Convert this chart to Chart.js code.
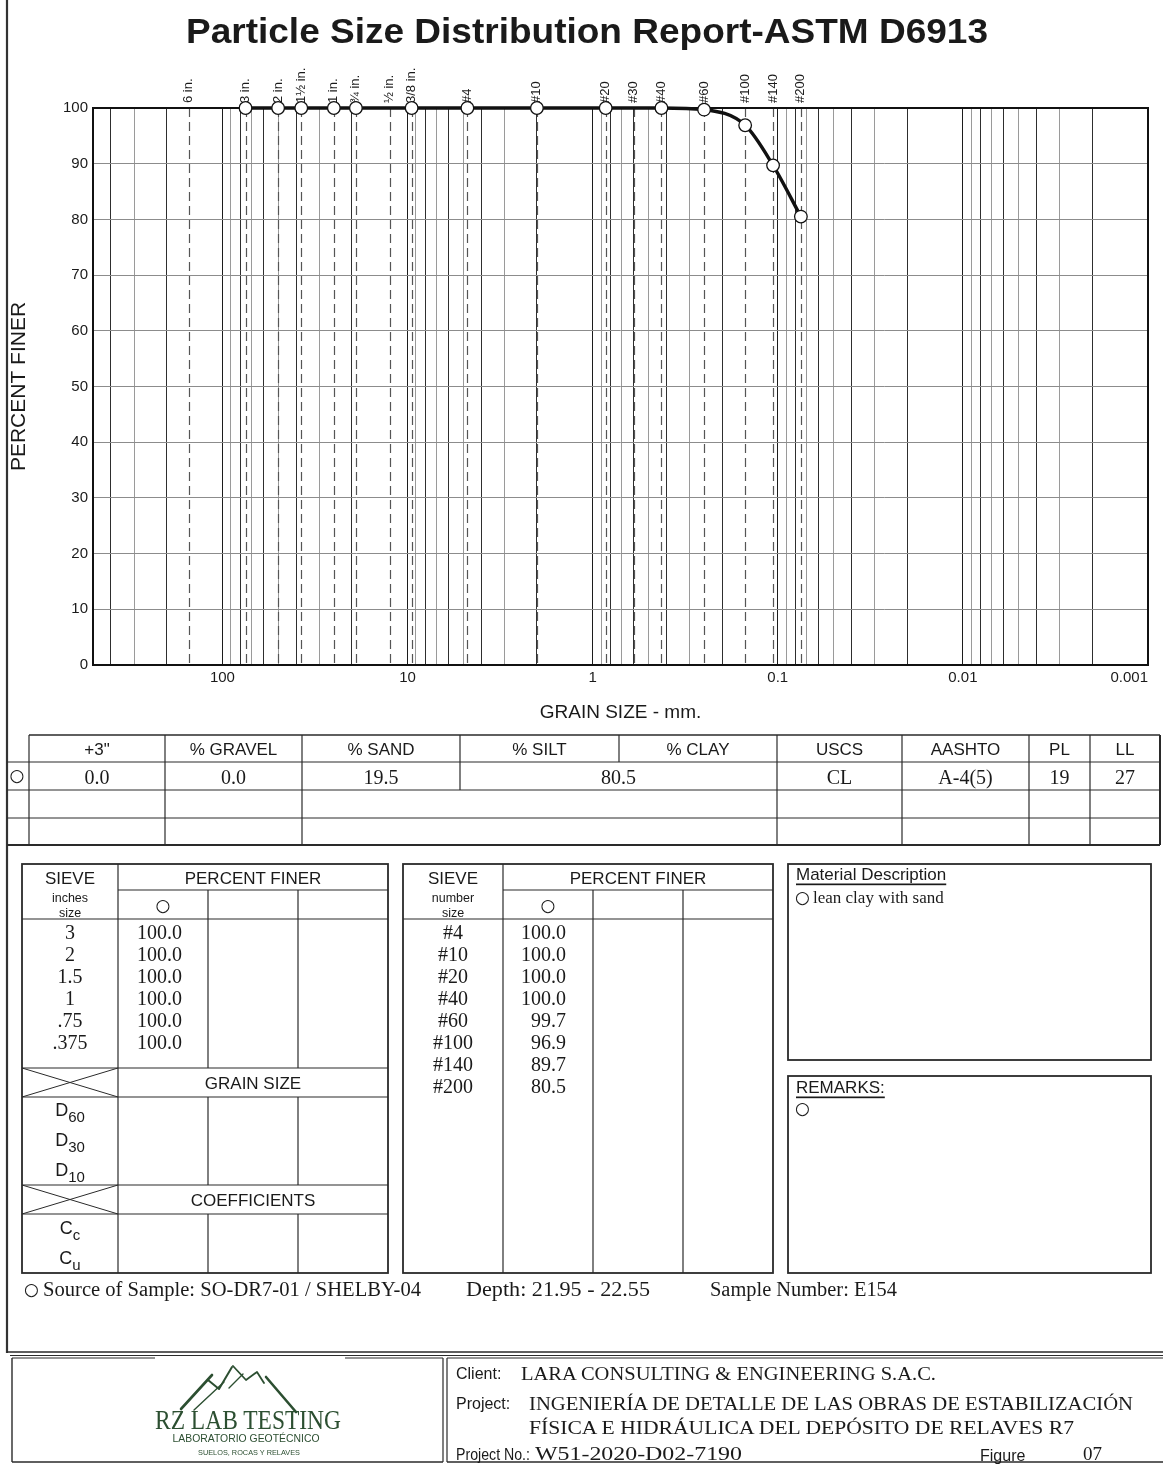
<!DOCTYPE html>
<html>
<head>
<meta charset="utf-8">
<title>Particle Size Distribution Report</title>
<script src="https://cdn.jsdelivr.net/npm/chart.js@4.4.1/dist/chart.umd.min.js"></script>
<style>
  body { margin: 0; background: #fff; }
  #page { position: relative; width: 1163px; height: 1465px; overflow: hidden; background: #fff; }
  #chartBox { position: absolute; left: 0; top: 0; width: 1163px; height: 730px; }
  #form { position: absolute; left: 0; top: 0; }
</style>
</head>
<body>
<div id="page">
  <div id="chartBox"><canvas id="psdChart" width="1163" height="730"></canvas></div>
  <svg id="form" width="1163" height="1465" xmlns="http://www.w3.org/2000/svg"></svg>
</div>
<script>
// sieve lines drawn on the chart (mm)
const sieveNames = ["6 in.", "3 in.", "2 in.", "1½ in.", "1 in.", "¾ in.", "½ in.", "3/8 in.", "#4", "#10", "#20", "#30", "#40", "#60", "#100", "#140", "#200"];
const sieveOpenings = [152.4, 75, 50, 37.5, 25, 19, 12.5, 9.5, 4.75, 2.0, 0.85, 0.6, 0.425, 0.25, 0.15, 0.106, 0.075];

// test results
const grainSize = [75, 50, 37.5, 25, 19, 9.5, 4.75, 2.0, 0.85, 0.425, 0.25, 0.15, 0.106, 0.075];
const percentFiner = [100, 100, 100, 100, 100, 100, 100, 100, 100, 100, 99.7, 96.9, 89.7, 80.5];

// axis labels
const sizeTickLabels = ["100", "10", "1", "0.1", "0.01", "0.001"];
const finerTicks = [0, 10, 20, 30, 40, 50, 60, 70, 80, 90, 100];

// summary table
const summaryHeaders = ['+3"', "% GRAVEL", "% SAND", "% SILT", "% CLAY", "USCS", "AASHTO", "PL", "LL"];
const summaryValues = ["0.0", "0.0", "19.5", "80.5", "CL", "A-4(5)", "19", "27"];

// sieve tables
const inchSieves = ["3", "2", "1.5", "1", ".75", ".375"];
const inchFiner = ["100.0", "100.0", "100.0", "100.0", "100.0", "100.0"];
const numberSieves = ["#4", "#10", "#20", "#40", "#60", "#100", "#140", "#200"];
const numberFiner = ["100.0", "100.0", "100.0", "100.0", "99.7", "96.9", "89.7", "80.5"];

const SANS = "'Liberation Sans', Arial, sans-serif";
const SERIF = "'Liberation Serif', 'Times New Roman', serif";
const SYMBOL = "'DejaVu Sans', sans-serif";

// log grid: every 1..9 x 10^n between 0.001 and 500
const gridValues = [];
[-3, -2, -1, 0, 1, 2].forEach((e) => {
  [1, 2, 3, 4, 5, 6, 7, 8, 9].forEach((m) => {
    const v = m * Math.pow(10, e);
    if (v <= 500) gridValues.push(v);
  });
});

function gridColor(v) {
  const e = Math.floor(Math.log10(v) + 1e-9);
  const m = Math.round(v / Math.pow(10, e));
  if (m === 1) return "#1c1c1c";
  return m % 2 === 0 ? "#2e2e2e" : "#9a9a9a";
}

const sievePlugin = {
  id: "sieveLines",
  beforeDatasetsDraw(chart) {
    const { ctx, chartArea: a, scales: { x } } = chart;
    ctx.save();
    ctx.strokeStyle = "#555";
    ctx.lineWidth = 1.2;
    ctx.setLineDash([9, 5]);
    sieveOpenings.forEach((d) => {
      const px = Math.round(x.getPixelForValue(d)) + 0.5;
      ctx.beginPath();
      ctx.moveTo(px, a.top);
      ctx.lineTo(px, a.bottom);
      ctx.stroke();
    });
    ctx.setLineDash([]);

    ctx.strokeStyle = "#111";
    ctx.lineWidth = 2;
    ctx.strokeRect(a.left, a.top, a.right - a.left, a.bottom - a.top);

    ctx.fillStyle = "#1a1a1a";
    ctx.font = "13px " + SANS;
    ctx.textAlign = "left";
    ctx.textBaseline = "middle";
    sieveNames.forEach((s, i) => {
      const px = x.getPixelForValue(sieveOpenings[i]);
      ctx.save();
      ctx.translate(px, a.top - 5);
      ctx.rotate(-Math.PI / 2);
      ctx.fillText(s, 0, 0);
      ctx.restore();
    });

    ctx.font = "15px " + SANS;
    sizeTickLabels.forEach((lbl, i) => {
      const px = x.getPixelForValue(Number(lbl));
      ctx.textAlign = i === sizeTickLabels.length - 1 ? "right" : "center";
      ctx.fillText(lbl, px, a.bottom + 13);
    });
    ctx.restore();
  },
};

new Chart(document.getElementById("psdChart"), {
  type: "line",
  data: {
    datasets: [
      {
        data: grainSize.map((g, i) => ({ x: g, y: percentFiner[i] })),
        borderColor: "#111",
        borderWidth: 3.4,
        cubicInterpolationMode: "monotone",
        pointRadius: 6.3,
        pointBackgroundColor: "#fff",
        pointBorderColor: "#111",
        pointBorderWidth: 1.3,
        fill: false,
        clip: false,
      },
    ],
  },
  options: {
    responsive: false,
    animation: false,
    devicePixelRatio: 1,
    layout: { padding: { top: 108, right: 15, bottom: 0, left: 0 } },
    plugins: { legend: { display: false }, tooltip: { enabled: false } },
    scales: {
      x: {
        type: "logarithmic",
        reverse: true,
        min: 0.001,
        max: 500,
        afterBuildTicks: (scale) => {
          scale.ticks = gridValues.map((v) => ({ value: v }));
        },
        afterFit: (scale) => {
          scale.height = 65;
        },
        ticks: { display: false },
        grid: { drawTicks: false, color: (c) => gridColor(c.tick.value), lineWidth: 1 },
        border: { display: false },
        title: {
          display: true,
          text: "GRAIN SIZE - mm.",
          color: "#1a1a1a",
          font: { family: SANS, size: 19 },
          padding: { top: 0, bottom: 6 },
        },
      },
      y: {
        min: 0,
        max: 100,
        afterBuildTicks: (scale) => {
          scale.ticks = finerTicks.map((v) => ({ value: v }));
        },
        afterFit: (scale) => {
          scale.width = 93;
        },
        ticks: { color: "#1a1a1a", font: { family: SANS, size: 15 }, padding: 5 },
        grid: { drawTicks: false, color: "#8c8c8c", lineWidth: 1 },
        border: { display: false },
        title: {
          display: true,
          text: "PERCENT FINER",
          color: "#1a1a1a",
          font: { family: SANS, size: 21 },
          padding: { top: 7, bottom: 0 },
        },
      },
    },
  },
  plugins: [sievePlugin],
});

// ---------- report form (svg) ----------
const svgNS = "http://www.w3.org/2000/svg";
const form = document.getElementById("form");

function el(tag, attrs, text, parent) {
  const n = document.createElementNS(svgNS, tag);
  for (const k in attrs) n.setAttribute(k, attrs[k]);
  if (text !== undefined) n.textContent = text;
  (parent || form).appendChild(n);
  return n;
}
function line(x1, y1, x2, y2, w, c) {
  el("line", { x1, y1, x2, y2, stroke: c || "#2a2a2a", "stroke-width": w || 1 });
}
function box(x1, y1, x2, y2, w) {
  el("rect", { x: x1, y: y1, width: x2 - x1, height: y2 - y1, fill: "none", stroke: "#2a2a2a", "stroke-width": w || 1.6 });
}
function txt(x, y, s, o) {
  o = o || {};
  const attrs = {
    x, y,
    "font-family": o.family || (o.serif ? SERIF : SANS),
    "font-size": o.size || 17,
    "text-anchor": o.anchor || "middle",
    "dominant-baseline": "central",
    fill: o.color || "#1a1a1a",
  };
  if (o.bold) attrs["font-weight"] = "bold";
  if (o.len) { attrs.textLength = o.len; attrs.lengthAdjust = "spacingAndGlyphs"; }
  if (o.underline) attrs["text-decoration"] = "underline";
  return el("text", attrs, s);
}
function mark(x, y, anchor) {
  txt(x, y, "○", { family: SYMBOL, size: 17, anchor: anchor || "middle" });
}
function sub(x, y, main, low, size) {
  const t = el("text", { x, y, "font-family": SANS, "font-size": size, "text-anchor": "middle", "dominant-baseline": "central", fill: "#1a1a1a" });
  el("tspan", {}, main, t);
  el("tspan", { "font-size": size - 3, dy: 6 }, low, t);
}
function cross(x1, y1, x2, y2) {
  line(x1, y1, x2, y2, 1);
  line(x1, y2, x2, y1, 1);
}

// title and page border
txt(186, 30, "Particle Size Distribution Report-ASTM D6913", { bold: true, size: 35, anchor: "start", len: 802 });
line(7, 0, 7, 1353, 2.2, "#333");

// summary table
const sumCols = [29, 165, 302, 460, 619, 777, 902, 1029, 1090, 1160];
line(29, 735, 1160, 735, 1.6);
line(7, 762, 1160, 762, 1.2);
line(7, 790, 1160, 790, 1);
line(7, 818, 1160, 818, 1);
line(7, 845, 1160, 845, 2);
sumCols.forEach((cx) => {
  let y2 = 845;
  if (cx === 460) y2 = 790;
  if (cx === 619) y2 = 762;
  line(cx, 735, cx, y2, cx === 1160 ? 2 : 1.2);
});
summaryHeaders.forEach((h, i) => {
  txt((sumCols[i] + sumCols[i + 1]) / 2, 749, h, { size: 17 });
});
const valueCells = [[29, 165], [165, 302], [302, 460], [460, 777], [777, 902], [902, 1029], [1029, 1090], [1090, 1160]];
summaryValues.forEach((v, i) => {
  txt((valueCells[i][0] + valueCells[i][1]) / 2, 777, v, { serif: true, size: 20 });
});
mark(17, 775);

// left sieve table
box(22, 864, 388, 1273, 1.8);
line(118, 864, 118, 1273, 1.2);
line(118, 890, 388, 890, 1.2);
line(22, 919, 388, 919, 1.2);
line(22, 1068, 388, 1068, 1.2);
line(22, 1097, 388, 1097, 1.2);
line(22, 1185, 388, 1185, 1.2);
line(22, 1214, 388, 1214, 1.2);
[208, 298].forEach((cx) => {
  line(cx, 890, cx, 1068, 1.2);
  line(cx, 1097, cx, 1185, 1.2);
  line(cx, 1214, cx, 1273, 1.2);
});
cross(22, 1068, 118, 1097);
cross(22, 1185, 118, 1214);
txt(70, 878, "SIEVE", { size: 17 });
txt(253, 878, "PERCENT FINER", { size: 17 });
txt(70, 898, "inches", { size: 12.5 });
txt(70, 913, "size", { size: 12.5 });
mark(163, 905);
inchSieves.forEach((s, i) => {
  txt(70, 932 + 22 * i, s, { serif: true, size: 20 });
  txt(182, 932 + 22 * i, inchFiner[i], { serif: true, size: 20, anchor: "end" });
});
txt(253, 1083, "GRAIN SIZE", { size: 17 });
sub(70, 1110, "D", "60", 18);
sub(70, 1140, "D", "30", 18);
sub(70, 1170, "D", "10", 18);
txt(253, 1200, "COEFFICIENTS", { size: 17 });
sub(70, 1228, "C", "c", 18);
sub(70, 1258, "C", "u", 18);

// middle sieve table
box(403, 864, 773, 1273, 1.8);
line(503, 864, 503, 1273, 1.2);
line(593, 890, 593, 1273, 1.2);
line(683, 890, 683, 1273, 1.2);
line(503, 890, 773, 890, 1.2);
line(403, 919, 773, 919, 1.2);
txt(453, 878, "SIEVE", { size: 17 });
txt(638, 878, "PERCENT FINER", { size: 17 });
txt(453, 898, "number", { size: 12.5 });
txt(453, 913, "size", { size: 12.5 });
mark(548, 905);
numberSieves.forEach((s, i) => {
  txt(453, 932 + 22 * i, s, { serif: true, size: 20 });
  txt(566, 932 + 22 * i, numberFiner[i], { serif: true, size: 20, anchor: "end" });
});

// description and remarks
box(788, 864, 1151, 1060, 1.8);
box(788, 1076, 1151, 1273, 1.8);
txt(796, 874, "Material Description", { size: 17, anchor: "start", underline: true });
mark(795, 897, "start");
txt(813, 897, "lean clay with sand", { serif: true, size: 17, anchor: "start" });
txt(796, 1087, "REMARKS:", { size: 17, anchor: "start", underline: true });
mark(795, 1108, "start");

// sample line
mark(24, 1289, "start");
txt(43, 1289, "Source of Sample: SO-DR7-01 / SHELBY-04", { serif: true, size: 20, anchor: "start", len: 378 });
txt(466, 1289, "Depth: 21.95 - 22.55", { serif: true, size: 20, anchor: "start", len: 184 });
txt(710, 1289, "Sample Number: E154", { serif: true, size: 20, anchor: "start", len: 187 });

// footer frame
line(7, 1352, 1163, 1352, 1.6);
line(10, 1355.5, 1163, 1355.5, 1);
line(12, 1358, 155, 1358, 1.2);
line(345, 1358, 443, 1358, 1.2);
line(12, 1358, 12, 1462, 1.4);
line(12, 1462, 443, 1462, 1.4);
line(443, 1358, 443, 1462, 1.2);
line(447, 1358, 447, 1462, 1.2);
line(447, 1358, 1163, 1358, 1.2);
line(447, 1462, 1163, 1462, 1.4);

// logo
const GREEN = "#2c4f31";
const logo = el("g", { stroke: GREEN, fill: "none", "stroke-linecap": "round", "stroke-linejoin": "round" });
el("path", { d: "M181,1409 L212,1375", "stroke-width": 2.6 }, undefined, logo);
el("path", { d: "M194,1410 L224,1382", "stroke-width": 1.4 }, undefined, logo);
el("path", { d: "M208,1380 L219,1389 L232,1367", "stroke-width": 2 }, undefined, logo);
el("path", { d: "M233,1366 L246,1380 L257,1372 L264,1383", "stroke-width": 1.8 }, undefined, logo);
el("path", { d: "M229,1388 L243,1374", "stroke-width": 1.4 }, undefined, logo);
el("path", { d: "M266,1377 L296,1412", "stroke-width": 2.6 }, undefined, logo);
txt(248, 1420, "RZ LAB TESTING", { serif: true, size: 27, color: GREEN, len: 186 });
txt(246, 1438, "LABORATORIO GEOTÉCNICO", { size: 11, color: GREEN, len: 147 });
txt(249, 1452, "SUELOS, ROCAS Y RELAVES", { size: 7.5, color: GREEN, len: 102 });

// client block
txt(456, 1373, "Client:", { size: 16, anchor: "start" });
txt(521, 1373, "LARA CONSULTING & ENGINEERING S.A.C.", { serif: true, size: 19, anchor: "start", len: 415 });
txt(456, 1403, "Project:", { size: 16, anchor: "start" });
txt(529, 1403, "INGENIERÍA DE DETALLE DE LAS OBRAS DE ESTABILIZACIÓN", { serif: true, size: 19, anchor: "start", len: 604 });
txt(529, 1427, "FÍSICA E HIDRÁULICA DEL DEPÓSITO DE RELAVES R7", { serif: true, size: 19, anchor: "start", len: 545 });
txt(456, 1454, "Project No.:", { size: 16, anchor: "start", len: 74 });
txt(535, 1453, "W51-2020-D02-7190", { serif: true, size: 19, anchor: "start", len: 207 });
txt(980, 1455, "Figure", { size: 16, anchor: "start" });
txt(1083, 1453, "07", { serif: true, size: 19, anchor: "start" });
</script>
</body>
</html>
